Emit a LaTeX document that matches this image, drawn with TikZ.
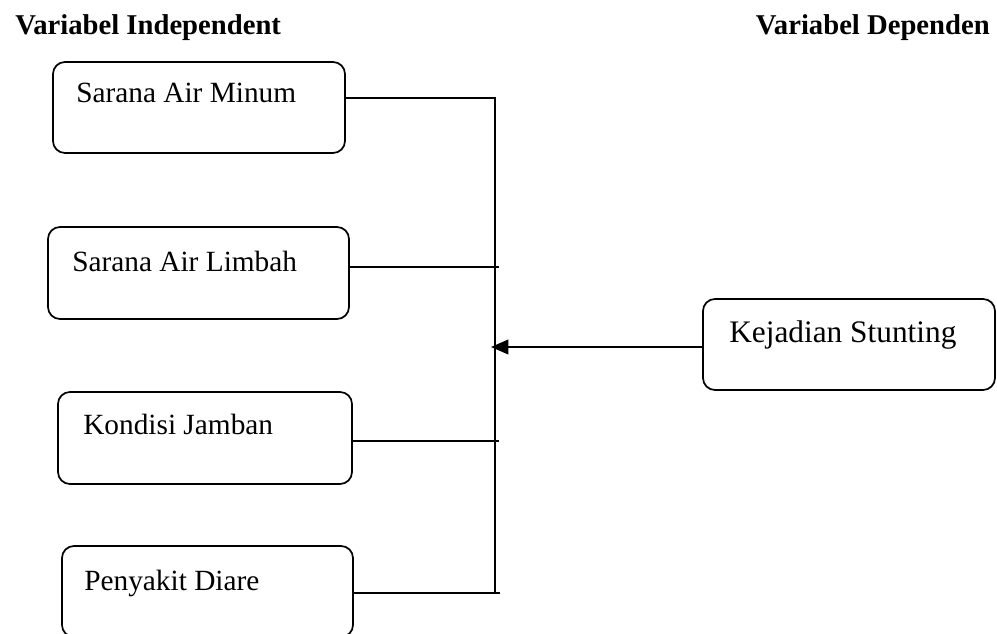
\documentclass[tikz,border=0pt]{standalone}
\usepackage{fontspec}
\setmainfont{Liberation Serif}
\usetikzlibrary{arrows.meta}
\begin{document}
\begin{tikzpicture}
[x=0.75pt,y=-0.75pt,
varbox/.style={draw,line width=1.3pt,rounded corners=9pt},
boxtext/.style={anchor=base west,inner sep=0pt,font=\fontsize{22}{26}\selectfont},
head/.style={anchor=base west,inner sep=0pt,font=\fontsize{21.5}{26}\selectfont\bfseries},
link/.style={line width=1.4pt}]
\useasboundingbox (0,0) rectangle (997,634);

\node[head] (indep) at (15,35) {Variabel Independent};
\node[head,anchor=base east] (dep) at (990,35) {Variabel Dependen};

\node[varbox,minimum width=219pt,minimum height=68.25pt] (minum) at (199,107.5) {};
\node[varbox,minimum width=225.75pt,minimum height=69pt] (limbah) at (198.5,273) {};
\node[varbox,minimum width=220.5pt,minimum height=69pt] (jamban) at (205,438) {};
\node[varbox,minimum width=218.25pt,minimum height=68.25pt] (diare) at (207.5,591.5) {};
\node[varbox,minimum width=219pt,minimum height=68.25pt] (stunting) at (849,344.5) {};

\node[boxtext] (tminum) at (76,103) {Sarana Air Minum};
\node[boxtext] (tlimbah) at (72,272) {Sarana Air Limbah};
\node[boxtext] (tjamban) at (83,435) {Kondisi Jamban};
\node[boxtext] (tdiare) at (84,590) {Penyakit Diare};
\node[boxtext,font=\fontsize{23.5}{28}\selectfont] (tstunting) at (729,343) {Kejadian Stunting};

% garis penghubung
\coordinate (bustop) at (495,97);
\coordinate (busbot) at (495,594);
\coordinate (j1) at (495,98);
\coordinate (j2) at (499,267);
\coordinate (j3) at (499,441);
\coordinate (j4) at (500,593);
\coordinate (tip) at (491,347);

\draw[link] (bustop) -- (busbot);
\draw[link] (minum.east |- j1) -- (j1);
\draw[link] (limbah.east |- j2) -- (j2);
\draw[link] (jamban.east |- j3) -- (j3);
\draw[link] (diare.east |- j4) -- (j4);

\draw[link,-{Triangle[length=13pt,width=11pt]}] (stunting.west |- tip) -- (tip);
\end{tikzpicture}
\end{document}
